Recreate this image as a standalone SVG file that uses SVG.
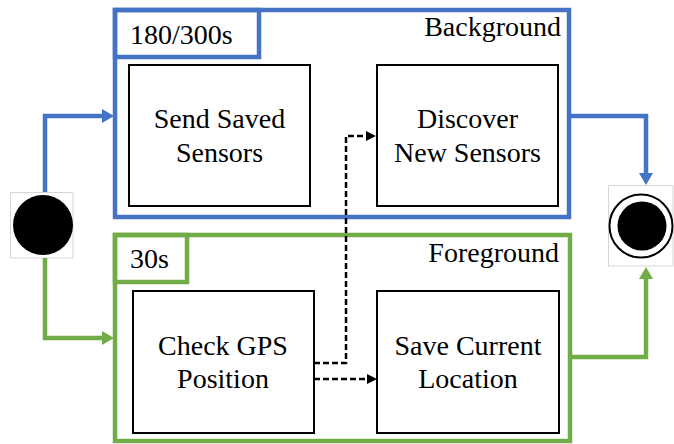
<svg xmlns="http://www.w3.org/2000/svg" width="674" height="444" viewBox="0 0 674 444">
<style>
  text { font-family: 'Liberation Serif', 'Times New Roman', serif; font-size: 28px; fill: #000; }
  .m { text-anchor: middle; }
  .e { text-anchor: end; }
  .box { fill: #fff; stroke: #000; stroke-width: 2; }
  .blue { fill: none; stroke: #4472C4; stroke-width: 4.5; }
  .green { fill: none; stroke: #70AD47; stroke-width: 4.5; }
  .dash { fill: none; stroke: #000; stroke-width: 2.5; stroke-dasharray: 6 3; }
  .frame { fill: #fff; stroke: #d6d6d6; stroke-width: 1; }
</style>
<defs>
  <marker id="ab" viewBox="0 -7 12 14" refX="0" refY="0" markerWidth="12" markerHeight="14" markerUnits="userSpaceOnUse" orient="auto">
    <path d="M0,-7 L12,0 L0,7 Z" fill="#4472C4"/>
  </marker>
  <marker id="ag" viewBox="0 -7 12 14" refX="0" refY="0" markerWidth="12" markerHeight="14" markerUnits="userSpaceOnUse" orient="auto">
    <path d="M0,-7 L12,0 L0,7 Z" fill="#70AD47"/>
  </marker>
  <marker id="ad" viewBox="0 -5 10 10" refX="0" refY="0" markerWidth="10" markerHeight="10" markerUnits="userSpaceOnUse" orient="auto">
    <path d="M0,-5 L10,0 L0,5 Z" fill="#000"/>
  </marker>
</defs>

<g id="background">
  <rect class="blue" x="115" y="10" width="454" height="207"/>
  <rect class="blue" x="115" y="10" width="144" height="47"/>
  <text x="130" y="44">180/300s</text>
  <text class="e" x="561" y="36">Background</text>
</g>
<g id="foreground">
  <rect class="green" x="115" y="235" width="455" height="206"/>
  <rect class="green" x="115" y="235" width="72" height="47"/>
  <text x="130" y="268">30s</text>
  <text class="e" x="559" y="262">Foreground</text>
</g>

<g id="send-saved">
  <rect class="box" x="129" y="65" width="181" height="141"/>
  <text class="m" x="219.5" y="128">Send Saved</text>
  <text class="m" x="219.5" y="162">Sensors</text>
</g>
<g id="discover">
  <rect class="box" x="377" y="65" width="181" height="141"/>
  <text class="m" x="467.5" y="128">Discover</text>
  <text class="m" x="467.5" y="162">New Sensors</text>
</g>
<g id="check-gps">
  <rect class="box" x="133" y="291" width="181" height="142"/>
  <text class="m" x="223" y="355">Check GPS</text>
  <text class="m" x="223" y="388">Position</text>
</g>
<g id="save-location">
  <rect class="box" x="377" y="291" width="182" height="142"/>
  <text class="m" x="468" y="355">Save Current</text>
  <text class="m" x="468" y="388">Location</text>
</g>

<g id="start">
  <rect class="frame" x="10.5" y="192.5" width="62.5" height="65.5"/>
  <circle cx="43" cy="225" r="30" fill="#000"/>
</g>
<g id="end">
  <rect class="frame" x="608.5" y="185.5" width="64.5" height="80.5"/>
  <circle cx="641" cy="226" r="31.5" fill="#fff" stroke="#000" stroke-width="2"/>
  <circle cx="642" cy="226" r="24.5" fill="#000"/>
</g>

<g id="connectors">
  <path class="blue" d="M45,192 V116 H102" marker-end="url(#ab)"/>
  <path class="green" d="M45,258 V338 H102" marker-end="url(#ag)"/>
  <path class="blue" d="M569,116 H646 V173" marker-end="url(#ab)"/>
  <path class="green" d="M570,357 H646 V279" marker-end="url(#ag)"/>
  <path class="dash" d="M314,363 H346 V136 H366" marker-end="url(#ad)"/>
  <path class="dash" d="M314,379 H367" marker-end="url(#ad)"/>
</g>
</svg>
